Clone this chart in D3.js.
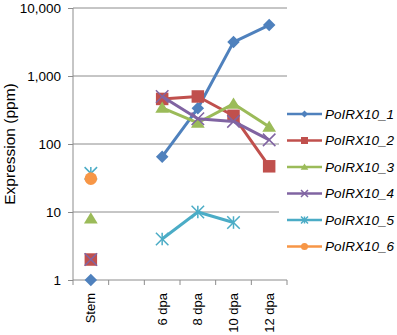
<!DOCTYPE html>
<html>
<head>
<meta charset="utf-8">
<script src="https://cdn.jsdelivr.net/npm/d3@7"></script>
<style>
  body { margin: 0; background: #fff; }
  text { font-family: Arial, "Liberation Sans", sans-serif; }
</style>
</head>
<body>
<div class="canvas"></div>
<script>
const categories = ["Stem", "", "6 dpa", "8 dpa", "10 dpa", "12 dpa"];
const yTicks = [1, 10, 100, 1000, 10000];
const seriesNames = ["PoIRX10_1", "PoIRX10_2", "PoIRX10_3", "PoIRX10_4", "PoIRX10_5", "PoIRX10_6"];
const colors = ["#4F81BD", "#C0504D", "#9BBB59", "#8064A2", "#4BACC6", "#F79646"];
const symbols = ["diamond", "square", "triangle", "cross", "star", "circle"];

// null = no value
const s1 = [1, null, 65, 335, 3150, 5600];
const s2 = [2, null, 460, 500, 260, 47];
const s3 = [8, null, 340, 205, 390, 180];
const s4 = [2, null, 500, 235, 215, 115];
const s5 = [37, null, 4, 10, 7, null];
const s6 = [31, null, null, null, null, null];
const seriesValues = [s1, s2, s3, s4, s5, s6];

const totalWidth = 397, totalHeight = 335;
const margin = { top: 8, left: 73 };
const graphWidth = 214, graphHeight = 272;

const svg = d3.select(".canvas").append("svg")
  .attr("width", totalWidth).attr("height", totalHeight);

const graph = svg.append("g").attr("transform", `translate(${margin.left},${margin.top})`);

const x = d3.scaleBand().domain(d3.range(categories.length)).range([0, graphWidth]);
const y = d3.scaleLog().domain([1, 10000]).range([graphHeight, 0]);

// gridlines
graph.append("g").selectAll("line").data(yTicks.slice(1)).enter().append("line")
  .attr("x1", 0).attr("x2", graphWidth)
  .attr("y1", d => y(d)).attr("y2", d => y(d))
  .attr("stroke", "#8c8c8c").attr("stroke-width", 1);

// y axis
const yAxis = d3.axisLeft(y).tickValues(yTicks).tickFormat(d3.format(",")).tickSize(5).tickPadding(7);
const yg = graph.append("g").call(yAxis);
yg.select(".domain").attr("stroke", "#8c8c8c").attr("d", `M0,0V${graphHeight}`);
yg.selectAll(".tick line").attr("stroke", "#8c8c8c");
yg.selectAll("text").attr("font-size", 13.5).attr("fill", "#000");

// x axis
const xg = graph.append("g").attr("transform", `translate(0,${graphHeight})`);
xg.append("line").attr("x1", 0).attr("x2", graphWidth).attr("stroke", "#8c8c8c");
xg.selectAll(".xt").data(d3.range(categories.length + 1)).enter().append("line")
  .attr("x1", d => d * x.bandwidth()).attr("x2", d => d * x.bandwidth())
  .attr("y1", 0).attr("y2", 5).attr("stroke", "#8c8c8c");
xg.selectAll(".xl").data(categories).enter().append("text")
  .attr("transform", (d, i) => `translate(${x(i) + x.bandwidth() / 2 + 4.5},13) rotate(-90)`)
  .attr("text-anchor", "end").attr("font-size", 13).text(d => d);

// y title
svg.append("text")
  .attr("transform", `translate(15,${margin.top + graphHeight / 2}) rotate(-90)`)
  .attr("text-anchor", "middle").attr("font-size", 15.5).text("Expression (ppm)");

// legend background
svg.append("rect").attr("x", 279).attr("y", 100).attr("width", 118).attr("height", 160).attr("fill", "#fff");

function symbolPath(type, size) {
  if (type === "diamond") {
    const r = size / 2;
    return `M0,${-r}L${r},0L0,${r}L${-r},0Z`;
  }
  if (type === "square") {
    const r = size / 2;
    return `M${-r},${-r}H${r}V${r}H${-r}Z`;
  }
  if (type === "triangle") {
    const r = size / 2;
    return `M0,${-r}L${r * 1.1},${r * 0.8}L${-r * 1.1},${r * 0.8}Z`;
  }
  if (type === "circle") {
    return d3.symbol().type(d3.symbolCircle).size(size * size * 0.8)();
  }
  return null;
}

function drawMarker(g, type, color, cx, cy, size) {
  if (type === "cross" || type === "star") {
    const r = size / 2;
    const p = g.append("g").attr("transform", `translate(${cx},${cy})`)
      .attr("stroke", color).attr("stroke-width", 1.5).attr("fill", "none");
    p.append("path").attr("d", `M${-r},${-r}L${r},${r}M${-r},${r}L${r},${-r}`);
    if (type === "star") p.append("path").attr("d", `M0,${-r}V${r}`);
  } else {
    g.append("path").attr("transform", `translate(${cx},${cy})`)
      .attr("d", symbolPath(type, size)).attr("fill", color);
  }
}

const line = d3.line()
  .defined(d => d != null)
  .x((d, i) => x(i) + x.bandwidth() / 2)
  .y(d => y(d));

seriesValues.forEach((vals, k) => {
  const sg = graph.append("g");
  sg.append("path").datum(vals).attr("d", line)
    .attr("fill", "none").attr("stroke", colors[k]).attr("stroke-width", 3)
    .attr("stroke-linejoin", "round");
  vals.forEach((v, i) => {
    if (v == null) return;
    drawMarker(sg, symbols[k], colors[k], x(i) + x.bandwidth() / 2, y(v), 12.5);
  });
});

// legend
const legend = svg.append("g");
seriesNames.forEach((name, k) => {
  const ly = 114 + k * 26.5;
  legend.append("line").attr("x1", 287).attr("x2", 322).attr("y1", ly).attr("y2", ly)
    .attr("stroke", colors[k]).attr("stroke-width", 2.5);
  drawMarker(legend, symbols[k], colors[k], 304.5, ly, 7);
  legend.append("text").attr("x", 325).attr("y", ly + 4.5)
    .attr("font-size", 13.5).attr("font-style", "italic").text(name);
});
</script>
</body>
</html>
